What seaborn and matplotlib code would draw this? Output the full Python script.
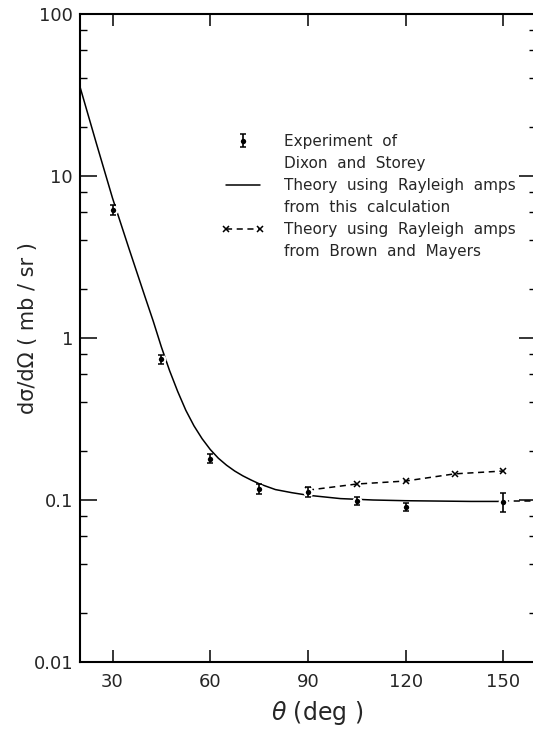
import matplotlib
matplotlib.use("Agg")
import matplotlib.pyplot as plt
from matplotlib.lines import Line2D
from matplotlib.container import ErrorbarContainer
from matplotlib.legend_handler import HandlerTuple, HandlerErrorbar
import seaborn as sns

# experiment of Dixon and Storey
exp_theta = [30, 45, 60, 75, 90, 105, 120, 150]
exp_sigma = [6.2, 0.74, 0.18, 0.117, 0.112, 0.099, 0.0905, 0.097]
exp_err = [0.45, 0.05, 0.011, 0.008, 0.008, 0.006, 0.005, 0.013]

# theory, Rayleigh amps from this calculation
th_theta = [20, 25, 30, 35, 40, 42.5, 45, 47.5, 50, 52.5, 55, 57.5, 60,
            62.5, 65, 67.5, 70, 72.5, 75, 80, 85, 90, 100, 110, 120, 130,
            140, 150]
th_sigma = [35.6, 16.0, 7.3, 3.59, 1.79, 1.27, 0.88, 0.63, 0.468, 0.358,
            0.287, 0.239, 0.205, 0.181, 0.164, 0.151, 0.141, 0.133, 0.126,
            0.116, 0.111, 0.107, 0.102, 0.100, 0.099, 0.0985, 0.098, 0.098]
# continuation past the last angle (dashed)
ext_theta = [150, 160]
ext_sigma = [0.098, 0.098]

# theory, Rayleigh amps from Brown and Mayers
bm_theta = [90, 105, 120, 135, 150]
bm_sigma = [0.115, 0.1255, 0.131, 0.145, 0.151]

x_ticks = [30, 60, 90, 120, 150]
y_ticks = [0.01, 0.1, 1, 10, 100]
y_labels = ["0.01", "0.1", "1", "10", "100"]

sns.set_style("ticks")
plt.rcParams['font.family'] = ['DejaVu Sans']

fig, ax = plt.subplots(figsize=(5.33, 7.29), dpi=100)
fig.subplots_adjust(left=0.150, right=1.0056, bottom=0.0919, top=0.9808)

sns.lineplot(x=th_theta, y=th_sigma, color='k', lw=1.1, ax=ax, zorder=2)
sns.lineplot(x=ext_theta, y=ext_sigma, color='k', lw=1.1, ls=(0, (4, 3)),
             ax=ax, zorder=2)
sns.lineplot(x=bm_theta, y=bm_sigma, color='k', lw=1.1, ls=(0, (4, 3)),
             marker='x', ms=5, mew=1.1, mec='k', ax=ax, zorder=2)

sc = ax.scatter(exp_theta, exp_sigma, s=30, color='k', edgecolor='white',
                linewidth=1.6, zorder=3)
eb = ax.errorbar(exp_theta, exp_sigma, yerr=exp_err, fmt='none', ecolor='k',
                 elinewidth=1.2, capsize=2.0, capthick=1.1, zorder=4)

ax.set_yscale('log')
ax.set_xlim(20, 160)
ax.set_ylim(0.01, 100)
ax.set_xticks(x_ticks)
ax.set_xticklabels([str(v) for v in x_ticks])
ax.set_yticks(y_ticks)
ax.set_yticklabels(y_labels)
ax.set_yticks([m * d for d in [0.01, 0.1, 1, 10] for m in [2, 4, 6, 8]],
              minor=True)
ax.yaxis.set_minor_formatter(plt.NullFormatter())
ax.xaxis.set_minor_locator(plt.NullLocator())

ax.tick_params(axis='both', which='both', direction='in', top=True,
               right=True, color='k', labelsize=13)
ax.tick_params(axis='x', which='major', length=8.6, width=1.1, pad=8)
ax.tick_params(axis='y', which='major', length=12.2, width=1.1, pad=5)
ax.tick_params(axis='y', which='minor', length=5, width=1.0)
for s in ax.spines.values():
    s.set_linewidth(1.5)
    s.set_color('k')

ax.set_xlabel(r"$\theta$ (deg )", fontsize=17)
ax.set_ylabel("dσ/dΩ ( mb / sr )", fontsize=15)
ax.xaxis.set_label_coords(0.52, -0.057)
ax.yaxis.set_label_coords(-0.092, 0.515)

# legend: one row per text line, symbol on the first line of each entry
blank = Line2D([], [], lw=0)
h_line = ax.lines[0]
h_bm = ax.lines[2]
leg = ax.legend(
    [(sc, eb), blank, h_line, blank, h_bm, blank],
    ["Experiment  of", "Dixon  and  Storey",
     "Theory  using  Rayleigh  amps", "from  this  calculation",
     "Theory  using  Rayleigh  amps", "from  Brown  and  Mayers"],
    handler_map={tuple: HandlerTuple(ndivide=1),
                 ErrorbarContainer: HandlerErrorbar(numpoints=1,
                                                    yerr_size=0.45)},
    loc='upper left', bbox_to_anchor=(0.311, 0.815), frameon=False,
    fontsize=11, handlelength=2.8, handletextpad=1.3, labelspacing=0.46,
    borderpad=0, borderaxespad=0, numpoints=2, scatterpoints=1,
    scatteryoffsets=[0.5])

fig.savefig("out.png", dpi=100)
